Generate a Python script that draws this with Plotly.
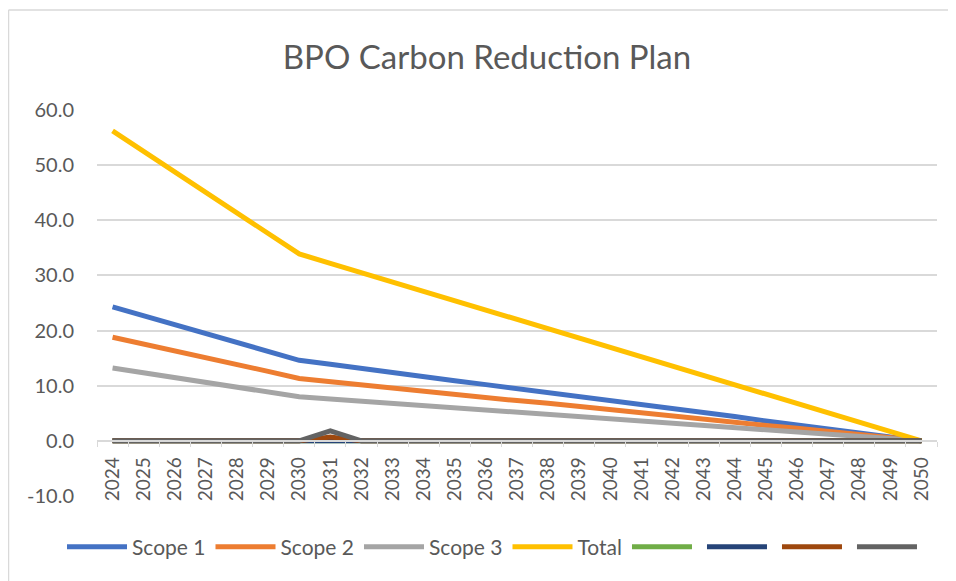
import plotly.graph_objects as go

years = [str(y) for y in range(2024, 2051)]

scope1 = [24.3, 22.7, 21.1, 19.5, 17.8, 16.2, 14.6, 13.9, 13.1, 12.4, 11.7, 10.9, 10.2, 9.5,
          8.8, 8.0, 7.3, 6.6, 5.8, 5.1, 4.4, 3.6, 2.9, 2.2, 1.5, 0.7, 0.0]
scope2 = [18.8, 17.6, 16.3, 15.1, 13.8, 12.6, 11.3, 10.7, 10.2, 9.6, 9.0, 8.5, 7.9, 7.3,
          6.8, 6.2, 5.7, 5.1, 4.5, 4.0, 3.4, 2.8, 2.3, 1.7, 1.1, 0.6, 0.0]
scope3 = [13.2, 12.3, 11.5, 10.6, 9.7, 8.9, 8.0, 7.6, 7.2, 6.8, 6.4, 6.0, 5.6, 5.2,
          4.8, 4.4, 4.0, 3.6, 3.2, 2.8, 2.4, 2.0, 1.6, 1.2, 0.8, 0.4, 0.0]
total = [56.2, 52.5, 48.8, 45.0, 41.3, 37.6, 33.9, 32.2, 30.5, 28.8, 27.1, 25.4, 23.7, 22.0,
         20.3, 18.6, 17.0, 15.3, 13.6, 11.9, 10.2, 8.5, 6.8, 5.1, 3.4, 1.7, 0.0]
series5 = [0.0] * 27
series6 = [0.0] * 27
series7 = [0.0] * 7 + [0.7] + [0.0] * 19
series8 = [0.0] * 7 + [1.8] + [0.0] * 19

y_tickvals = [-10, 0, 10, 20, 30, 40, 50, 60]
y_ticktext = ["-10.0", "0.0", "10.0", "20.0", "30.0", "40.0", "50.0", "60.0"]

series = [
    ("Scope 1", scope1, "#4472C4"),
    ("Scope 2", scope2, "#ED7D31"),
    ("Scope 3", scope3, "#A5A5A5"),
    ("Total", total, "#FFC000"),
    ("", series5, "#70AD47"),
    ("", series6, "#264478"),
    ("", series7, "#9E480E"),
    ("", series8, "#636363"),
]

FONT = "Lato"
TXT = "#595959"
GRID = "#D9D9D9"

# the figure sits 8px in from the page's top-left corner
OFF = 8
W, H = 956, 581
PL, PR, PT, PB = 97, 937, 110, 496  # plot area in page coords
PW, PH = PR - PL, PB - PT


def px(x):
    return (x - PL) / PW


def py(y):
    return (PB - y) / PH


fig = go.Figure()
for name, vals, color in series:
    fig.add_trace(go.Scatter(
        x=years, y=vals, name=name, mode="lines",
        line=dict(color=color, width=5),
        hoverinfo="x+y",
    ))

fig.update_layout(
    width=W, height=H,
    margin=dict(l=PL - OFF, r=(W + OFF) - PR, t=PT - OFF, b=(H + OFF) - PB,
                autoexpand=False),
    paper_bgcolor="white", plot_bgcolor="white",
    title=dict(text="BPO Carbon Reduction Plan", x=(487 - OFF) / W, xanchor="center",
               y=1 - (57 - OFF) / H, yanchor="middle",
               font=dict(family=FONT, size=33, color=TXT)),
    font=dict(family=FONT, color=TXT),
    showlegend=True,
    legend=dict(orientation="h", x=px(62), xanchor="left",
                y=py(547), yanchor="middle",
                font=dict(family=FONT, size=21, color=TXT),
                itemwidth=60, tracegroupgap=0, bgcolor="rgba(0,0,0,0)"),
    xaxis=dict(type="category", range=[-0.5, 26.5], anchor="free", position=10 / 70,
               showgrid=False, showline=True, linecolor=GRID, linewidth=1.5,
               ticks="outside", tickson="boundaries", ticklen=5, tickcolor=GRID,
               ticklabelstandoff=8,
               tickangle=-90, tickfont=dict(family=FONT, size=19, color=TXT)),
    yaxis=dict(range=[-10, 60], tickvals=y_tickvals, ticktext=y_ticktext,
               showgrid=True, gridcolor=GRID, gridwidth=1.5, zeroline=False,
               showline=False, ticks="", ticklabelstandoff=22,
               tickfont=dict(family=FONT, size=20, color=TXT)),
    shapes=[
        dict(type="line", xref="paper", yref="paper",
             x0=px(8.5), x1=px(8.5), y0=py(600), y1=py(10),
             line=dict(color=GRID, width=1.5), layer="below"),
        dict(type="line", xref="paper", yref="paper",
             x0=px(8.5), x1=px(980), y0=py(10), y1=py(10),
             line=dict(color=GRID, width=1.5), layer="below"),
    ],
)

fig.write_html(
    "out.html",
    post_script="document.documentElement.style.overflow='hidden';"
                "document.body.style.overflow='hidden';",
)
